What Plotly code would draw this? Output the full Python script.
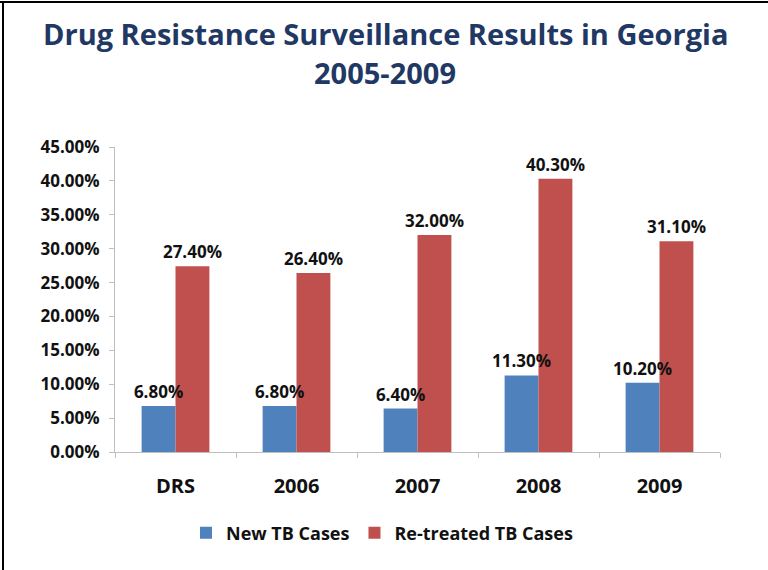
import plotly.graph_objects as go

# Surveillance rounds and drug-resistance shares (fractions)
categories = ["DRS", "2006", "2007", "2008", "2009"]
new_tb_cases = [0.068, 0.068, 0.064, 0.113, 0.102]
retreated_tb_cases = [0.274, 0.264, 0.320, 0.403, 0.311]
series_names = ["New TB Cases", "Re-treated TB Cases"]
title_lines = ["Drug Resistance Surveillance Results in Georgia", "2005-2009"]

W, H = 768, 570
ML, MR, MT, MB = 115, 48, 147, 118

BLUE = "#4F81BD"
RED = "#C0504D"
NAVY = "#1F3864"
BODY_FONT = "Open Sans"
INK = "#111111"

label_font = dict(family=BODY_FONT, size=17, color=INK, weight="bold")

series = [(series_names[0], new_tb_cases, BLUE, "new"),
          (series_names[1], retreated_tb_cases, RED, "re")]

fig = go.Figure()
# coloured bars
for name, vals, color, grp in series:
    fig.add_trace(go.Bar(
        x=categories, y=vals, name=name, offsetgroup=grp,
        marker=dict(color=color, line=dict(width=0)),
        hoverinfo="skip",
    ))
# value labels, drawn in a later layer so they sit above neighbouring bars
for name, vals, color, grp in series:
    fig.add_trace(go.Bar(
        x=categories, y=vals, name=name, offsetgroup=grp, showlegend=False,
        marker=dict(color="rgba(0,0,0,0)", line=dict(width=0)),
        texttemplate="%{y:.2%}", textposition="outside",
        textfont=label_font, cliponaxis=False, constraintext="none",
    ))

# helpers: page pixels -> paper coordinates of the plot area
pw = W - ML - MR
ph = H - MT - MB
def px_x(x):
    return (x - ML) / pw
def px_y(y):
    return (H - MB - y) / ph

# frame lines along the top and left edges of the page
fig.add_shape(type="line", xref="paper", yref="paper",
              x0=px_x(0), x1=px_x(W), y0=px_y(2), y1=px_y(2),
              line=dict(color="black", width=2))
fig.add_shape(type="line", xref="paper", yref="paper",
              x0=px_x(3), x1=px_x(3), y0=px_y(2), y1=px_y(H),
              line=dict(color="black", width=2))

# two-line heading
for text, yc in zip(title_lines, [34, 73]):
    fig.add_annotation(
        text=text, xref="paper", yref="paper",
        x=px_x(385), y=px_y(yc), xanchor="center", yanchor="middle",
        showarrow=False,
        font=dict(family=BODY_FONT, size=29, color=NAVY, weight="bold"),
    )

fig.update_layout(
    width=W, height=H,
    margin=dict(l=ML, r=MR, t=MT, b=MB, autoexpand=False),
    paper_bgcolor="white", plot_bgcolor="white",
    barmode="group", bargap=0.44, bargroupgap=0,
    showlegend=True,
    legend=dict(
        orientation="h", x=px_x(382), xanchor="center", y=px_y(533), yanchor="middle",
        font=dict(family=BODY_FONT, size=18, color=INK, weight="bold"),
        itemwidth=30, traceorder="normal",
    ),
    xaxis=dict(
        showline=True, linecolor="#BFBFBF", linewidth=1,
        ticks="outside", tickson="boundaries", ticklen=5, tickcolor="#BFBFBF",
        tickfont=dict(family=BODY_FONT, size=20, color=INK, weight="bold"),
        ticklabelstandoff=16,
        showgrid=False, zeroline=False,
    ),
    yaxis=dict(
        range=[0, 0.45], dtick=0.05, tickformat=".2%",
        showline=True, linecolor="#BFBFBF", linewidth=1,
        ticks="outside", ticklen=5, tickcolor="#BFBFBF",
        tickfont=dict(family=BODY_FONT, size=17, color=INK, weight="bold"),
        ticklabelstandoff=6,
        showgrid=False, zeroline=False,
    ),
)

fig.write_html("out.html")
